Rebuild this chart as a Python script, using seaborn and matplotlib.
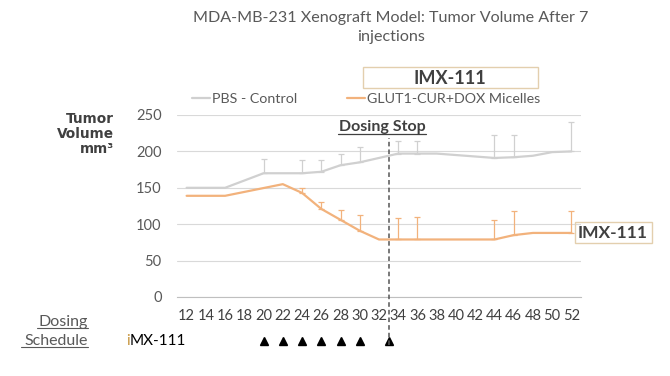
import numpy as np
import pandas as pd
import seaborn as sns
import matplotlib.pyplot as plt
from matplotlib.lines import Line2D
from matplotlib.patches import Rectangle

# valores (dias x volume tumoral mm3)
pbs_days = [12, 16, 20, 24, 26, 28, 30, 34, 36, 38, 44, 46, 48, 50, 52]
pbs_vol = [150, 150, 170, 170, 172, 181, 185, 197, 197, 197, 191, 192, 194, 199, 200]
pbs_err_days = [20, 24, 26, 28, 30, 34, 36, 44, 46, 52]
pbs_err = [20, 18, 16, 16, 21, 17, 17, 31, 31, 40]

imx_days = [12, 16, 22, 24, 26, 28, 30, 32, 34, 36, 44, 46, 48, 52]
imx_vol = [139, 139, 155, 143, 121, 106, 91, 79, 79, 79, 79, 85, 88, 88]
imx_err_days = [24, 26, 28, 30, 34, 36, 44, 46, 52]
imx_err = [7, 9, 14, 21, 29, 31, 27, 33, 30]

dose_days = [20, 22, 24, 26, 28, 30, 33]
stop_day = 33
tick_days = list(range(12, 53, 2))
group_names = ["PBS - Control", "GLUT1-CUR+DOX Micelles"]

gray = "#d0d0d0"
orange = "#f2b27c"
txt = "#404040"

sns.set_style("white")
plt.rcParams['font.family'] = ['Lato', 'DejaVu Sans']

fig = plt.figure(figsize=(6.7, 3.76), dpi=100)
ax = fig.add_axes([177/670, 1 - 297/376, 404/670, 182/376])

df = pd.concat([
    pd.DataFrame({'day': pbs_days, 'vol': pbs_vol, 'group': group_names[0]}),
    pd.DataFrame({'day': imx_days, 'vol': imx_vol, 'group': group_names[1]}),
])
sns.lineplot(data=df, x='day', y='vol', hue='group', palette=[gray, orange],
             linewidth=1.6, errorbar=None, legend=False, ax=ax, zorder=3)

# barras de erro (so a metade de cima)
for days, vals, edays, err, c in [(pbs_days, pbs_vol, pbs_err_days, pbs_err, gray),
                                  (imx_days, imx_vol, imx_err_days, imx_err, orange)]:
    lookup = dict(zip(days, vals))
    y = [lookup[d] for d in edays]
    ax.errorbar(edays, y, yerr=[np.zeros(len(err)), err], fmt='none', ecolor=c,
                elinewidth=0.9, capsize=2, capthick=0.9, zorder=3)

ax.set_xlim(11, 53)
ax.set_ylim(0, 250)
ax.set_yticks(range(0, 251, 50))
ax.yaxis.grid(True, color='#d9d9d9', linewidth=0.8)
ax.set_axisbelow(True)
for s in ['top', 'right', 'left']:
    ax.spines[s].set_visible(False)
ax.spines['bottom'].set_color('#bfbfbf')
ax.spines['bottom'].set_linewidth(0.8)

ax.set_xticks(range(11, 54, 2))
ax.set_xticklabels([])
ax.set_xticks(tick_days, minor=True)
ax.set_xticklabels([str(d) for d in tick_days], minor=True)
ax.tick_params(axis='x', which='major', length=4, color='#bfbfbf', width=0.8)
ax.tick_params(axis='x', which='minor', length=0, pad=9, labelsize=10.5, labelcolor=txt)
ax.tick_params(axis='y', length=0, pad=11, labelsize=10.5, labelcolor='#595959')
ax.set_xlabel("")
ax.set_ylabel("")

# linha de parada da dosagem + triangulos das injecoes
ax.axvline(stop_day, ymin=-0.264, ymax=0.875, color='#555555', linestyle=(0, (3, 2)),
           linewidth=1.1, clip_on=False, zorder=4)
ax.plot(dose_days, [-0.242] * len(dose_days), linestyle='none', marker='^', color='black',
        markersize=6, transform=ax.get_xaxis_transform(), clip_on=False)

fig.suptitle("MDA-MB-231 Xenograft Model: Tumor Volume After 7\ninjections",
             x=391/670, y=1 - 11/376, va='top', fontsize=11.6, color='#595959', linespacing=1.45)

handles = [Line2D([], [], color=gray, linewidth=1.6), Line2D([], [], color=orange, linewidth=1.6)]
fig.legend(handles, group_names, loc='center left', bbox_to_anchor=(192/670, 1 - 99/376),
           ncol=2, frameon=False, handlelength=1.25, handletextpad=0.15, columnspacing=3.5,
           fontsize=10.3, labelcolor='#595959', borderaxespad=0, borderpad=0)

fig.text(114/670, 1 - 134/376, "Tumor\nVolume\nmm\u00b3", ha='right', va='center',
         multialignment='right', fontsize=9.8, fontweight='bold', color=txt,
         linespacing=1.12, family='DejaVu Sans')

fig.text(382/670, 1 - 131/376, "Dosing Stop", ha='center', va='baseline', fontsize=11.5,
         fontweight='bold', color=txt)
fig.add_artist(Line2D([338/670, 426/670], [1 - 133.5/376] * 2, color=txt, linewidth=0.9))

# caixas IMX-111
fig.add_artist(Rectangle((363/670, 1 - 88/376), 175/670, 21/376, fill=False,
                         edgecolor='#e3cfae', linewidth=1))
fig.text(450/670, 1 - 78/376, "IMX-111", ha='center', va='center', fontsize=13,
         fontweight='bold', color=txt)
fig.add_artist(Rectangle((575/670, 1 - 243/376), 77/670, 21/376, fill=False,
                         edgecolor='#e3cfae', linewidth=1))
fig.text(613/670, 1 - 232.5/376, "IMX-111", ha='center', va='center', fontsize=12.5,
         fontweight='bold', color=txt)

# agenda de dosagem
fig.text(88/670, 1 - 326/376, "Dosing", ha='right', va='baseline', fontsize=11.5, color='#595959')
fig.text(88/670, 1 - 345/376, "Schedule", ha='right', va='baseline', fontsize=11.5, color='#595959')
fig.add_artist(Line2D([37/670, 88/670], [1 - 327.5/376] * 2, color='#595959', linewidth=0.8))
fig.add_artist(Line2D([21/670, 88/670], [1 - 346.5/376] * 2, color='#595959', linewidth=0.8))
fig.text(126/670, 1 - 345/376, "i", ha='left', va='baseline', fontsize=11, color='#c8963e')
fig.text(130/670, 1 - 345/376, "MX-111", ha='left', va='baseline', fontsize=11, color='black')

fig.savefig("out.png", dpi=100, facecolor='white')
